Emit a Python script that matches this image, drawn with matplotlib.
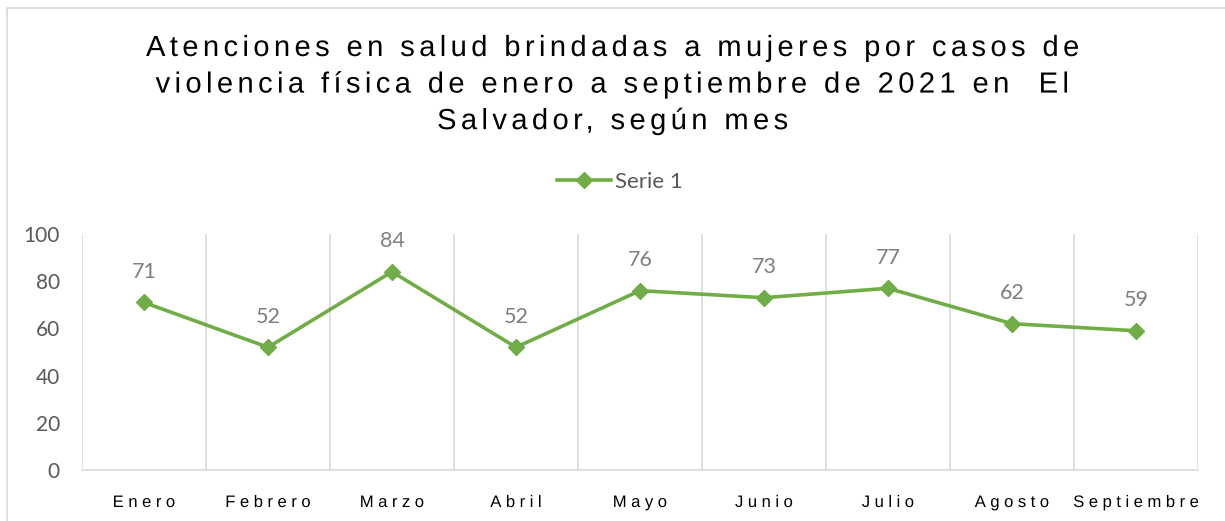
import matplotlib
matplotlib.use("Agg")
from matplotlib import pyplot as plt
from matplotlib.patches import Rectangle
from matplotlib.patheffects import AbstractPathEffect
from matplotlib.path import Path
import numpy as np

meses = ["Enero", "Febrero", "Marzo", "Abril", "Mayo", "Junio", "Julio", "Agosto", "Septiembre"]
atenciones = [71, 52, 84, 52, 76, 73, 77, 62, 59]
y_ticks = [0, 20, 40, 60, 80, 100]
titulo = ("Atenciones en salud brindadas a mujeres por casos de\n"
          "violencia física de enero a septiembre de 2021 en  El\n"
          "Salvador, según mes")

green = "#70AD47"
grid_c = "#D9D9D9"
gray = "#595959"


class Spaced(AbstractPathEffect):
    # letter spacing for a centred text line, s in em (path units are 100 per em)
    def __init__(self, s):
        super().__init__()
        self.s = s * 100

    def draw_path(self, renderer, gc, tpath, affine, rgbFace=None):
        verts = tpath.vertices.copy()
        codes = tpath.codes
        if codes is None or len(verts) == 0:
            renderer.draw_path(gc, tpath, affine, rgbFace)
            return
        real = codes != Path.CLOSEPOLY
        starts = list(np.where(codes == Path.MOVETO)[0]) + [len(verts)]
        shift = np.zeros(len(verts))
        idx = -1
        gmax = None
        for a, b in zip(starts[:-1], starts[1:]):
            xs = verts[a:b, 0][real[a:b]]
            if len(xs) == 0:
                continue
            lo, hi = xs.min(), xs.max()
            if gmax is None:
                idx = 0
                gmax = hi
            elif lo < gmax - 1:
                gmax = max(gmax, hi)
            else:
                gap = lo - gmax
                idx += 1 + max(0, round((gap - 8) / 27.8))
                gmax = hi
            shift[a:b] = idx * self.s
        verts[:, 0] += shift - max(idx, 0) * self.s / 2
        renderer.draw_path(gc, Path(verts, codes), affine, rgbFace)


fig = plt.figure(figsize=(12.25, 5.21), dpi=100)
fig.patches.append(Rectangle((7 / 1225, -0.1), 1.2, 1 - 8 / 521 + 0.1,
                             transform=fig.transFigure, fill=False,
                             edgecolor=grid_c, linewidth=1.2))

ax = fig.add_axes([82 / 1225, 1 - 470 / 521, (1198 - 82) / 1225, (470 - 234) / 521])
x = np.arange(len(meses))
ax.plot(x, atenciones, color=green, linewidth=2.6, marker="D", markersize=8,
        label="Serie 1")

for xi, v in zip(x, atenciones):
    ax.annotate(str(v), (xi, v), xytext=(0, 22), textcoords="offset points",
                ha="center", va="center", fontsize=15.5, color="#7F7F7F",
                family="Lato")

ax.set_xlim(-0.5, len(meses) - 0.5)
ax.set_ylim(0, 100)
ax.set_yticks(y_ticks)
ax.set_xticks(x)
ax.set_xticklabels(meses, family="Liberation Sans", fontsize=12, color="#000000")
for lab in ax.get_xticklabels():
    lab.set_path_effects([Spaced(0.27)])
for lab in ax.get_yticklabels():
    lab.set_family("Lato")
    lab.set_fontsize(15)
    lab.set_color(gray)
ax.tick_params(length=0)
ax.tick_params(axis="x", pad=18)
ax.tick_params(axis="y", pad=16)

for b in np.arange(-0.5, len(meses), 1.0):
    ax.axvline(b, color=grid_c, linewidth=1.2, zorder=0)

for s in ["top", "right", "left"]:
    ax.spines[s].set_visible(False)
ax.spines["bottom"].set_color(grid_c)
ax.spines["bottom"].set_linewidth(1.2)

fig.text(0.5, 1 - 34 / 521, titulo, ha="center", va="top", fontsize=21,
         family="Liberation Sans", color="#000000", linespacing=1.39,
         path_effects=[Spaced(0.15)])

fig.legend(loc="center", bbox_to_anchor=(620 / 1225, 1 - 182 / 521), frameon=False,
           prop={"family": "Lato", "size": 16}, labelcolor=gray,
           handlelength=2.4, handletextpad=0.2)

fig.savefig("out.png", dpi=100)
